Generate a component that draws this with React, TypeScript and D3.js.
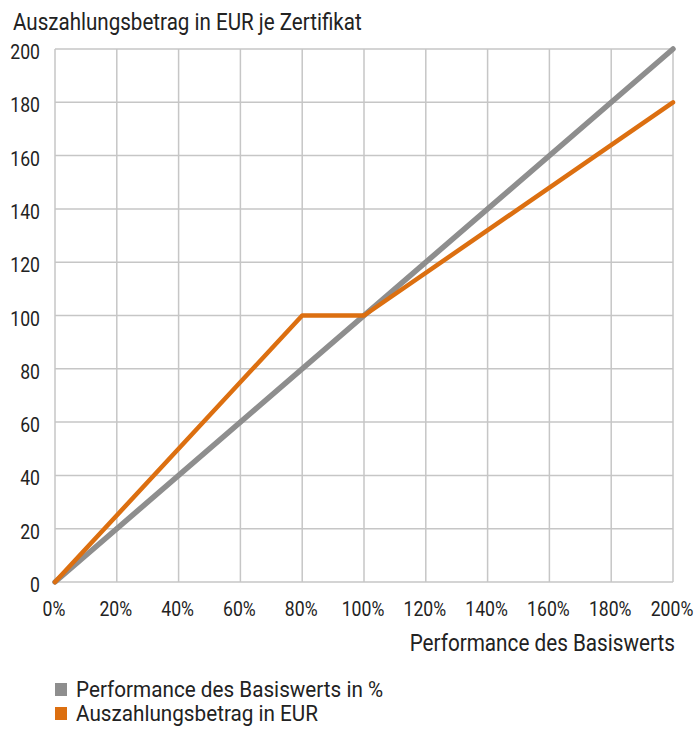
import React from "react";
import * as d3 from "d3";

const performancePct = [0, 20, 40, 60, 80, 100, 120, 140, 160, 180, 200];
const basisValues = [0, 200];
const basisX = [0, 200];
const payoutX = [0, 80, 100, 200];
const payoutValues = [0, 100, 100, 180];
const yTicks = [0, 20, 40, 60, 80, 100, 120, 140, 160, 180, 200];
const seriesNames = ["Performance des Basiswerts in %", "Auszahlungsbetrag in EUR"];
const seriesColors = ["#8e8e8e", "#dc6f10"];

const W = 699, H = 729;
const left = 55, right = 673, top = 49, bottom = 582;
const FONT = "Roboto, 'Liberation Sans', sans-serif";
const SX = 0.84;

export default function App() {
  const x = d3.scaleLinear().domain([0, 200]).range([left, right]);
  const y = d3.scaleLinear().domain([0, 200]).range([bottom, top]);
  const line = d3.line<[number, number]>().x(d => x(d[0])).y(d => y(d[1]));
  const basis = basisX.map((v, i) => [v, basisValues[i]] as [number, number]);
  const payout = payoutX.map((v, i) => [v, payoutValues[i]] as [number, number]);
  return (
    <svg width={W} height={H} style={{ position: "absolute", left: 0, top: 0, background: "#fff" }} fontFamily={FONT} fill="#222">
      <text transform="translate(13,30) scale(0.895,1)" fontSize={23}>Auszahlungsbetrag in EUR je Zertifikat</text>
      {yTicks.map(t => (
        <g key={"y" + t}>
          <line x1={left} x2={right} y1={y(t)} y2={y(t)} stroke="#c6c6c6" strokeWidth={1.5} />
          <text transform={`translate(40,${y(t) + 10}) scale(${SX},1)`} fontSize={21} textAnchor="end">{t}</text>
        </g>
      ))}
      {performancePct.map(t => (
        <g key={"x" + t}>
          <line x1={x(t)} x2={x(t)} y1={top} y2={bottom} stroke="#c6c6c6" strokeWidth={1.5} />
          <text transform={`translate(${x(t) - 1},616) scale(${SX},1)`} fontSize={21} textAnchor="middle">{t}%</text>
        </g>
      ))}
      <text transform="translate(675,651) scale(0.9,1)" fontSize={23} textAnchor="end">Performance des Basiswerts</text>
      <path d={line(basis) || ""} fill="none" stroke={seriesColors[0]} strokeWidth={5.5} strokeLinecap="round" />
      <path d={line(payout) || ""} fill="none" stroke={seriesColors[1]} strokeWidth={4.5} strokeLinecap="round" strokeLinejoin="round" />
      {seriesNames.map((n, i) => (
        <g key={n}>
          <rect x={55} y={683 + i * 24} width={12} height={13} fill={seriesColors[i]} />
          <text transform={`translate(76,${697 + i * 24}) scale(0.92,1)`} fontSize={22.5}>{n}</text>
        </g>
      ))}
    </svg>
  );
}
